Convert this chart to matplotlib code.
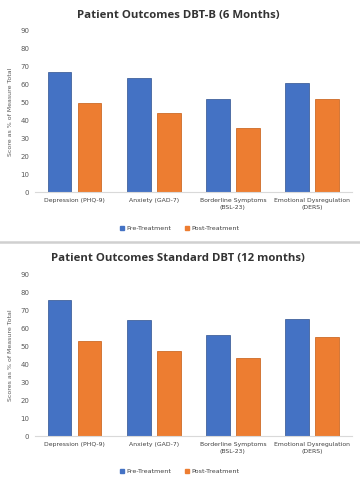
import matplotlib
matplotlib.use("Agg")
import matplotlib.pyplot as plt
import numpy as np
from matplotlib.patches import Patch
from matplotlib.lines import Line2D

categories = ["Depression (PHQ-9)", "Anxiety (GAD-7)", "Borderline Symptoms\n(BSL-23)", "Emotional Dysregulation\n(DERS)"]
series_names = ["Pre-Treatment", "Post-Treatment"]
dbtb_pre = [67, 64, 52, 61]
dbtb_post = [50, 44, 36, 52]
std_pre = [76, 65, 56.5, 65.5]
std_post = [53, 47.5, 43.5, 55.5]
yticks = [0, 10, 20, 30, 40, 50, 60, 70, 80, 90]

titles = ["Patient Outcomes DBT-B (6 Months)", "Patient Outcomes Standard DBT (12 months)"]
ylabels = ["Score as % of Measure Total", "Scores as % of Measure Total"]

blue = "#4472C4"
orange = "#ED7D31"
gray = "#595959"

fig = plt.figure(figsize=(3.6, 4.84), dpi=100)
fig.patch.set_facecolor("white")

axes_rects = [[0.097, 0.603, 0.880, 0.333], [0.097, 0.099, 0.880, 0.333]]
title_y = [0.968, 0.466]
legend_y = [0.528, 0.026]
data = [(dbtb_pre, dbtb_post), (std_pre, std_post)]

x = np.arange(len(categories))
w = 0.30
off = 0.19
for i in range(2):
    ax = fig.add_axes(axes_rects[i])
    pre, post = data[i]
    ax.bar(x - off, pre, w, color=blue, edgecolor="#2F528F", linewidth=0.5, label=series_names[0])
    ax.bar(x + off, post, w, color=orange, edgecolor="#C55A11", linewidth=0.5, label=series_names[1])
    ax.set_xlim(-0.5, len(categories) - 0.5)
    ax.set_ylim(0, 90)
    ax.set_yticks(yticks)
    ax.set_yticklabels([str(t) for t in yticks], fontsize=5, color=gray)
    ax.set_xticks(x)
    ax.set_xticklabels(categories, fontsize=4.4, color="#404040", linespacing=1.5)
    ax.tick_params(axis="both", length=0, pad=4)
    for s in ["top", "right", "left"]:
        ax.spines[s].set_visible(False)
    ax.spines["bottom"].set_color("#D9D9D9")
    ax.spines["bottom"].set_linewidth(0.8)
    ax.set_ylabel(ylabels[i], fontsize=4.5, color=gray, labelpad=5)
    fig.text(0.495, title_y[i], titles[i], ha="center", va="center", fontsize=8.2,
             fontweight="bold", color="#333333", family="Open Sans")
    handles = [Patch(facecolor=blue, edgecolor=blue), Patch(facecolor=orange, edgecolor=orange)]
    fig.legend(handles, series_names, loc="center", bbox_to_anchor=(0.5, legend_y[i]), ncol=2,
               frameon=False, fontsize=4.6, handlelength=0.6, handleheight=0.6,
               columnspacing=2.2, handletextpad=0.4, labelcolor="#404040")

fig.add_artist(Line2D([0, 1], [0.501, 0.501], color="#D0D0D0", linewidth=1.8, transform=fig.transFigure))

fig.savefig("out.png", dpi=100, facecolor="white")
